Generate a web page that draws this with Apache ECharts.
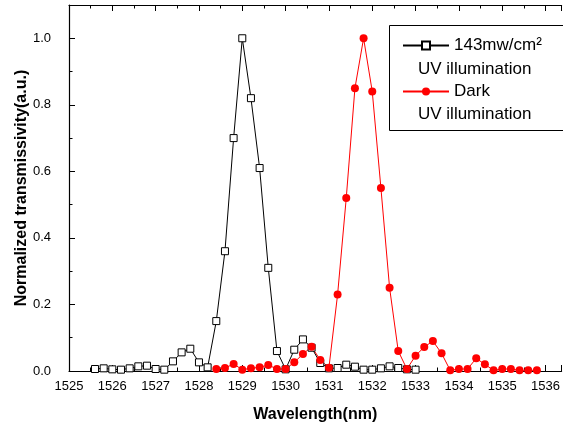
<!DOCTYPE html>
<html>
<head>
<meta charset="utf-8">
<script src="https://cdn.jsdelivr.net/npm/echarts@6/dist/echarts.min.js"></script>
<style>
  html, body { margin: 0; padding: 0; background: #fff; }
  #chart { width: 563px; height: 428px; }
</style>
</head>
<body>
<div id="chart"></div>
<script>
// UV illuminated spectrum (143mw/cm2)
var uvWave = [1525.6, 1525.8, 1526.0, 1526.2, 1526.4, 1526.6, 1526.8, 1527.0, 1527.2, 1527.4,
  1527.6, 1527.8, 1528.0, 1528.2, 1528.4, 1528.6, 1528.8, 1529.0, 1529.2, 1529.4,
  1529.6, 1529.8, 1530.0, 1530.2, 1530.4, 1530.6, 1530.8, 1531.0, 1531.2, 1531.4,
  1531.6, 1531.8, 1532.0, 1532.2, 1532.4, 1532.6, 1532.8, 1533.0];
var uvValue = [0.006, 0.008, 0.005, 0.004, 0.008, 0.014, 0.016, 0.006, 0.004, 0.029,
  0.056, 0.067, 0.026, 0.011, 0.15, 0.36, 0.70, 1.0, 0.82, 0.61,
  0.31, 0.06, 0.005, 0.064, 0.095, 0.07, 0.024, 0.008, 0.009, 0.019,
  0.013, 0.004, 0.004, 0.008, 0.014, 0.009, 0.005, 0.004];

// dark spectrum
var darkWave = [1528.4, 1528.6, 1528.8, 1529.0, 1529.2, 1529.4, 1529.6, 1529.8, 1530.0, 1530.2,
  1530.4, 1530.6, 1530.8, 1531.0, 1531.2, 1531.4, 1531.6, 1531.8, 1532.0, 1532.2,
  1532.4, 1532.6, 1532.8, 1533.0, 1533.2, 1533.4, 1533.6, 1533.8, 1534.0, 1534.2,
  1534.4, 1534.6, 1534.8, 1535.0, 1535.2, 1535.4, 1535.6, 1535.8];
var darkValue = [0.006, 0.009, 0.021, 0.004, 0.008, 0.011, 0.018, 0.006, 0.006, 0.026,
  0.051, 0.073, 0.033, 0.01, 0.23, 0.52, 0.85, 1.0, 0.84, 0.55,
  0.25, 0.06, 0.006, 0.046, 0.072, 0.09, 0.053, 0.002, 0.006, 0.006,
  0.038, 0.02, 0.002, 0.006, 0.006, 0.002, 0.002, 0.002];

var seriesNames = ["143mw/cm\u00b2", "Dark"];
var subLabel = "UV illumination";

var font = "'Liberation Sans', Arial, sans-serif";

function pairs(xs, ys) {
    return xs.map(function (x, i) { return [x, ys[i]]; });
}

var myChart = echarts.init(document.getElementById("chart"));

var option = {
    animation: false,
    backgroundColor: "#fff",
    grid: { left: 69, right: 0, top: 5, bottom: 56 },
    legend: {
        orient: "vertical",
        left: 402,
        top: 37,
        padding: 0,
        itemWidth: 46,
        itemHeight: 10,
        itemGap: 29,
        z: 6,
        textStyle: { fontFamily: font, fontSize: 17, color: "#000" },
        data: seriesNames
    },
    graphic: [
        {
            type: "rect", z: 3,
            shape: { x: 389.5, y: 25.5, width: 200, height: 105 },
            style: { fill: "#fff", stroke: "#000", lineWidth: 1 }
        },
        {
            type: "text", z: 6, left: 418, top: 61,
            style: { text: subLabel, font: "17px " + font, fill: "#000" }
        },
        {
            type: "text", z: 6, left: 418, top: 106,
            style: { text: subLabel, font: "17px " + font, fill: "#000" }
        }
    ],
    xAxis: [{
        type: "value",
        min: 1525,
        max: 1536.37,
        interval: 1,
        name: "Wavelength(nm)",
        nameLocation: "middle",
        nameGap: 36,
        nameTextStyle: { fontFamily: font, fontSize: 16, fontWeight: "bold", color: "#000" },
        axisLine: { lineStyle: { color: "#000", width: 1.2 } },
        axisTick: { inside: true, length: 6, lineStyle: { color: "#000" } },
        minorTick: { show: true, splitNumber: 2, length: 3.5, lineStyle: { color: "#000" } },
        axisLabel: {
            margin: 9, showMaxLabel: false, fontFamily: font, fontSize: 13, color: "#000",
            formatter: function (v) { return String(v); }
        },
        splitLine: { show: false }
    }, {
        type: "value",
        position: "top",
        min: 1525,
        max: 1536.37,
        interval: 1,
        axisLine: { lineStyle: { color: "#000", width: 1.2 } },
        axisTick: { inside: true, length: 6, lineStyle: { color: "#000" } },
        minorTick: { show: true, splitNumber: 2, length: 3.5, lineStyle: { color: "#000" } },
        axisLabel: { show: false },
        splitLine: { show: false }
    }],
    yAxis: {
        type: "value",
        min: 0,
        max: 1.1,
        interval: 0.2,
        name: "Normalized transmissivity(a.u.)",
        nameLocation: "middle",
        nameGap: 39,
        nameMoveOverlap: false,
        nameTextStyle: { fontFamily: font, fontSize: 16, fontWeight: "bold", color: "#000" },
        axisLine: { show: true, lineStyle: { color: "#000", width: 1.2 } },
        axisTick: { inside: true, length: 6, lineStyle: { color: "#000" } },
        minorTick: { show: true, splitNumber: 2, length: 3.5, lineStyle: { color: "#000" } },
        axisLabel: {
            margin: 18, showMaxLabel: false, fontFamily: font, fontSize: 13, color: "#000",
            formatter: function (v) { return v.toFixed(1); }
        },
        splitLine: { show: false }
    },
    series: [{
        name: seriesNames[0],
        type: "line",
        data: pairs(uvWave, uvValue),
        symbol: "rect",
        symbolSize: 7,
        lineStyle: { color: "#000", width: 1 },
        itemStyle: { color: "#fff", borderColor: "#000", borderWidth: 1 }
    }, {
        name: seriesNames[1],
        type: "line",
        data: pairs(darkWave, darkValue),
        symbol: "circle",
        symbolSize: 8,
        lineStyle: { color: "#ff0000", width: 1 },
        itemStyle: { color: "#ff0000" }
    }]
};

myChart.setOption(option);
</script>
</body>
</html>
